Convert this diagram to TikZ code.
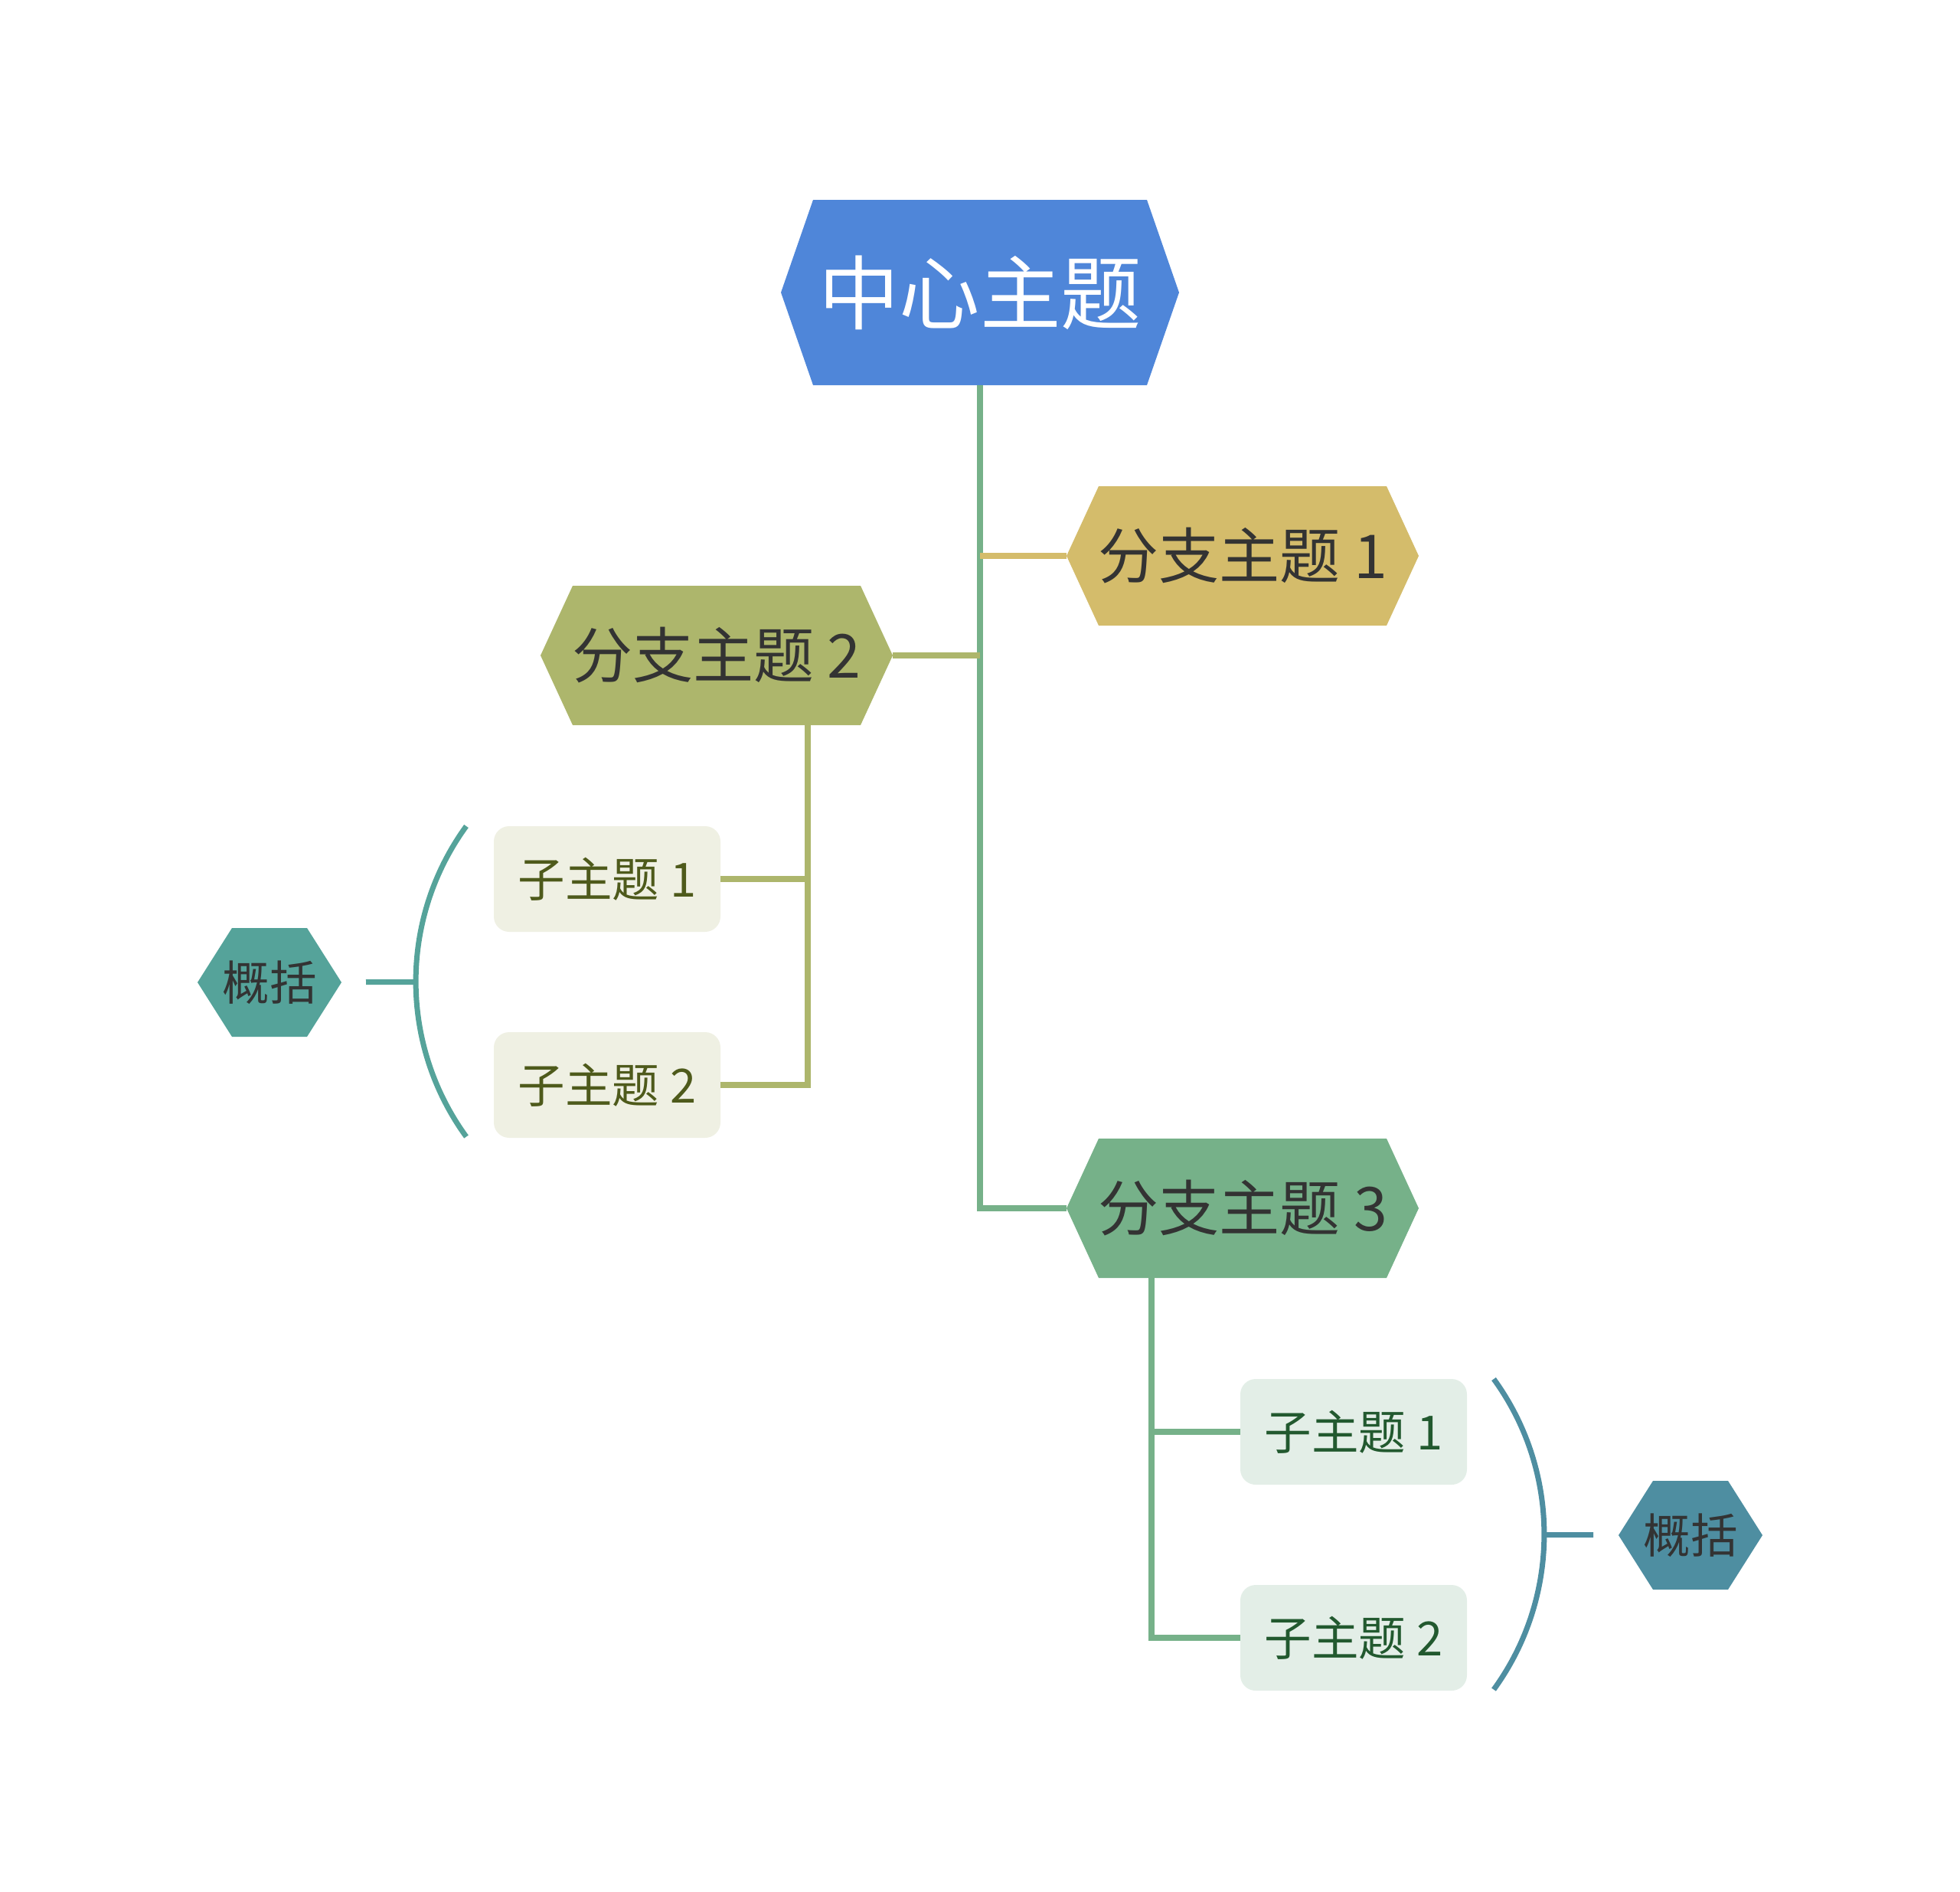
\documentclass[tikz,border=0pt]{standalone}
\usepackage{fontspec}
\setmainfont{Noto Sans CJK SC}
\usetikzlibrary{calc}
\definecolor{zhuti}{HTML}{4F86D9}
\definecolor{fen1}{HTML}{D4BC6B}
\definecolor{fen2}{HTML}{ADB66C}
\definecolor{fen3}{HTML}{76B189}
\definecolor{zi2bg}{HTML}{EFF0E3}
\definecolor{zi2txt}{HTML}{4E5A1B}
\definecolor{zi3bg}{HTML}{E3EEE7}
\definecolor{zi3txt}{HTML}{22592F}
\definecolor{kuo2}{HTML}{55A39A}
\definecolor{kuo3}{HTML}{4E8EA1}
\definecolor{txtdark}{HTML}{333333}
\tikzset{
	hexa/.style n args={4}{rectangle, minimum width=#1, minimum height=#2, inner sep=0pt, outer sep=0pt,
		path picture={\fill[#4] (path picture bounding box.west) -- ([xshift=#3]path picture bounding box.north west) -- ([xshift=-#3]path picture bounding box.north east) -- (path picture bounding box.east) -- ([xshift=-#3]path picture bounding box.south east) -- ([xshift=#3]path picture bounding box.south west) -- cycle;}},
	zhong/.style={hexa={5.2cm}{2.42cm}{0.42cm}{zhuti}, text=white, font=\fontsize{30}{36}\selectfont},
	fenzhi/.style={hexa={4.6cm}{1.82cm}{0.42cm}{#1}, text=txtdark, font=\fontsize{22.5}{27}\selectfont},
	zi/.style 2 args={rectangle, rounded corners=0.2cm, minimum width=2.96cm, minimum height=1.38cm, inner sep=0pt, outer sep=0pt, fill=#1, text=#2, font=\fontsize{17.5}{21}\selectfont},
	gaikuo/.style={hexa={1.88cm}{1.42cm}{0.45cm}{#1}, text=txtdark, font=\fontsize{17.5}{21}\selectfont},
	lian/.style={line width=0.08cm, draw=#1},
	kuo/.style={line width=0.07cm, draw=#1},
}
\begin{document}
\begin{tikzpicture}
	\useasboundingbox (0,0) rectangle (25.6,-24.7);
	\node[zhong] (zhongxin) at (12.80,-3.82) {中心主题};
	\node[fenzhi=fen1] (fz1) at (16.23,-7.26) {分支主题 1};
	\node[fenzhi=fen2] (fz2) at (9.36,-8.56) {分支主题 2};
	\node[fenzhi=fen3] (fz3) at (16.23,-15.78) {分支主题 3};
	\node[zi={zi2bg}{zi2txt}] (z21) at (7.93,-11.48) {子主题 1};
	\node[zi={zi2bg}{zi2txt}] (z22) at (7.93,-14.17) {子主题 2};
	\node[zi={zi3bg}{zi3txt}] (z31) at (17.68,-18.70) {子主题 1};
	\node[zi={zi3bg}{zi3txt}] (z32) at (17.68,-21.39) {子主题 2};
	\node[gaikuo=kuo2] (g2) at (3.52,-12.83) {概括};
	\node[gaikuo=kuo3] (g3) at (22.08,-20.05) {概括};
	\draw[lian=fen3] (zhongxin) |- (fz3);
	\draw[lian=fen1] (zhongxin |- fz1) -- (fz1);
	\draw[lian=fen2] (fz2) -- (zhongxin |- fz2);
	\coordinate (s2) at ($(fz2.south)+(1.19,0)$);
	\coordinate (s3) at ($(fz3.south)+(-1.19,0)$);
	\draw[lian=fen2] (s2) |- (z22);
	\draw[lian=fen2] (s2 |- z21) -- (z21);
	\draw[lian=fen3] (s3) |- (z32);
	\draw[lian=fen3] (s3 |- z31) -- (z31);
	\draw[kuo=kuo2] ([xshift=-0.36cm]z21.north west) arc[start angle=144, end angle=216, radius=3.45];
	\draw[kuo=kuo3] ([xshift=0.35cm]z31.north east) arc[start angle=36, end angle=-36, radius=3.45];
	\coordinate (a2) at ($(z21.west)!0.5!(z22.west)+(-1.02,0)$);
	\coordinate (a3) at ($(z31.east)!0.5!(z32.east)+(1.01,0)$);
	\draw[kuo=kuo2, shorten >=0.32cm] (a2) -- (g2);
	\draw[kuo=kuo3, shorten >=0.33cm] (a3) -- (g3);
\end{tikzpicture}
\end{document}
